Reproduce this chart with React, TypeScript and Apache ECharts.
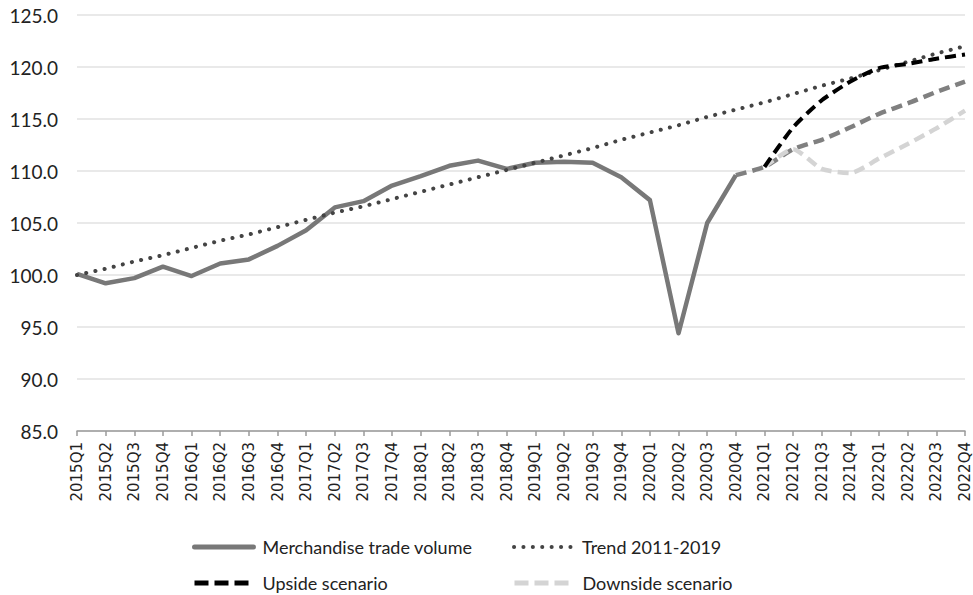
import React, { useEffect, useRef } from "react";
import * as echarts from "echarts";

const categories = [
  "2015Q1", "2015Q2", "2015Q3", "2015Q4",
  "2016Q1", "2016Q2", "2016Q3", "2016Q4",
  "2017Q1", "2017Q2", "2017Q3", "2017Q4",
  "2018Q1", "2018Q2", "2018Q3", "2018Q4",
  "2019Q1", "2019Q2", "2019Q3", "2019Q4",
  "2020Q1", "2020Q2", "2020Q3", "2020Q4",
  "2021Q1", "2021Q2", "2021Q3", "2021Q4",
  "2022Q1", "2022Q2", "2022Q3", "2022Q4",
];

const merchandiseVolume = [
  100.1, 99.2, 99.7, 100.8, 99.9, 101.1, 101.5, 102.8,
  104.3, 106.5, 107.1, 108.6, 109.5, 110.5, 111.0, 110.2,
  110.8, 110.9, 110.8, 109.4, 107.2, 94.4, 105.0, 109.6,
  null, null, null, null, null, null, null, null,
];

const trend20112019 = [
  100.0, 100.6, 101.3, 101.9, 102.6, 103.3, 103.9, 104.6,
  105.3, 106.0, 106.6, 107.3, 108.0, 108.7, 109.4, 110.1,
  110.8, 111.5, 112.2, 113.0, 113.7, 114.4, 115.2, 115.9,
  116.6, 117.4, 118.2, 118.9, 119.7, 120.5, 121.3, 122.0,
];

const baselineScenario = [
  null, null, null, null, null, null, null, null,
  null, null, null, null, null, null, null, null,
  null, null, null, null, null, null, null, 109.6,
  110.4, 112.1, 113.0, 114.2, 115.5, 116.5, 117.6, 118.6,
];

const upsideScenario = [
  null, null, null, null, null, null, null, null,
  null, null, null, null, null, null, null, null,
  null, null, null, null, null, null, null, null,
  110.4, 114.2, 116.8, 118.6, 119.9, 120.3, 120.8, 121.2,
];

const downsideScenario = [
  null, null, null, null, null, null, null, null,
  null, null, null, null, null, null, null, null,
  null, null, null, null, null, null, null, null,
  110.4, 112.1, 110.2, 109.8, 111.2, 112.6, 114.1, 115.8,
];

const legendFont = { fontFamily: "Lato", fontSize: 18, color: "#222", padding: [0, 0, 0, 4] };

export default function App() {
  const ref = useRef<HTMLDivElement>(null);

  useEffect(() => {
    document.body.style.margin = "0";
    if (!ref.current) return;
    const chart = echarts.init(ref.current, null, { renderer: "svg" });
    const legendCommon = {
      orient: "horizontal",
      padding: 0,
      itemWidth: 59,
      itemHeight: 14,
      itemGap: 9,
      textStyle: legendFont,
      selectedMode: false,
      itemStyle: { opacity: 0 },
    };
    chart.setOption({
      animation: false,
      backgroundColor: "#ffffff",
      grid: { left: 77, right: 8, top: 15, bottom: 164, containLabel: false },
      legend: [
        {
          ...legendCommon,
          data: ["Merchandise trade volume"],
          left: 192,
          top: 538,
          lineStyle: { width: 5, type: "solid", cap: "round" },
        },
        {
          ...legendCommon,
          data: ["Trend 2011-2019"],
          left: 512,
          top: 538,
          lineStyle: { width: 4, type: [0.1, 9.3], cap: "round" },
        },
        {
          ...legendCommon,
          data: ["Upside scenario"],
          left: 192,
          top: 574,
          lineStyle: { width: 5, type: [14, 6], cap: "butt" },
        },
        {
          ...legendCommon,
          data: ["Downside scenario"],
          left: 512,
          top: 574,
          lineStyle: { width: 5, type: [14, 6], cap: "butt" },
        },
      ],
      xAxis: {
        type: "category",
        data: categories,
        boundaryGap: false,
        axisLine: { lineStyle: { color: "#9a9a9a", width: 1.5 } },
        axisTick: { show: true, length: 5, lineStyle: { color: "#9a9a9a", width: 1.5 } },
        axisLabel: {
          rotate: 90,
          interval: 0,
          margin: 11,
          fontFamily: "DejaVu Sans",
          fontSize: 15,
          color: "#222",
        },
        splitLine: { show: false },
      },
      yAxis: {
        type: "value",
        min: 85,
        max: 125,
        interval: 5,
        axisLine: { show: false },
        axisTick: { show: false },
        axisLabel: {
          margin: 19,
          fontFamily: "Lato",
          fontSize: 19,
          color: "#222",
          formatter: (v: number) => v.toFixed(1),
        },
        splitLine: { lineStyle: { color: "#e2e2e2", width: 1.5 } },
      },
      series: [
        {
          name: "Merchandise trade volume",
          type: "line",
          data: merchandiseVolume,
          symbol: "none",
          color: "#787878",
          lineStyle: { color: "#787878", width: 4.5, join: "round" },
          z: 2,
        },
        {
          name: "Trend 2011-2019",
          type: "line",
          data: trend20112019,
          symbol: "none",
          color: "#444444",
          lineStyle: { color: "#444444", width: 4, type: [0.1, 9.3], cap: "round" },
          z: 3,
        },
        {
          name: "Baseline scenario",
          type: "line",
          data: baselineScenario,
          symbol: "none",
          smooth: 0.2,
          color: "#808080",
          lineStyle: { color: "#808080", width: 4.5, type: [11, 6] },
          z: 4,
        },
        {
          name: "Downside scenario",
          type: "line",
          data: downsideScenario,
          symbol: "none",
          smooth: 0.2,
          color: "#d4d4d4",
          lineStyle: { color: "#d4d4d4", width: 4.5, type: [11, 6] },
          z: 5,
        },
        {
          name: "Upside scenario",
          type: "line",
          data: upsideScenario,
          symbol: "none",
          smooth: 0.2,
          color: "#000000",
          lineStyle: { color: "#000000", width: 4, type: [11, 6] },
          z: 6,
        },
      ],
    });
    return () => chart.dispose();
  }, []);

  return <div ref={ref} style={{ width: 973, height: 595 }} />;
}
